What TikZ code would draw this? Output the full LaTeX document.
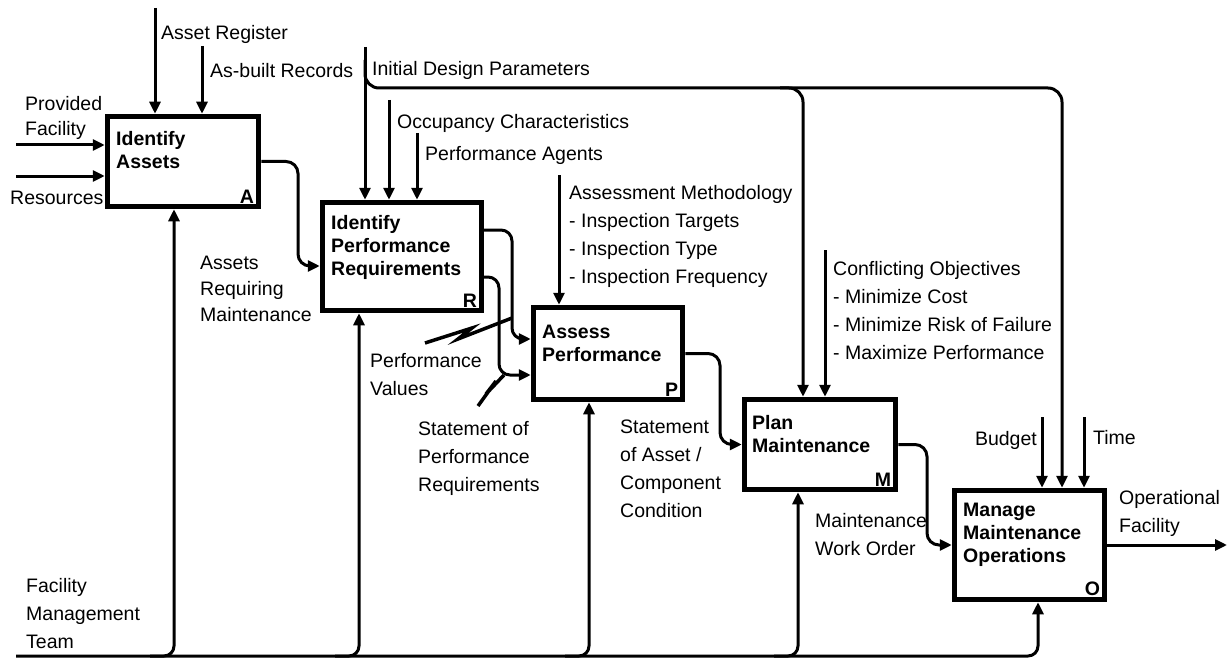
\documentclass[tikz,border=0pt]{standalone}
\usepackage{fontspec}
\setmainfont{Liberation Sans}
\usetikzlibrary{arrows.meta,calc}
\begin{document}
\begin{tikzpicture}[x=1pt,y=-1pt,
  every node/.style={inner sep=0pt},
  lbl/.style={anchor=north west, align=left, font=\fontsize{19.5}{28}\selectfont},
  bx/.style={anchor=north west, align=left, font=\bfseries\fontsize{19.5}{23}\selectfont},
  corner/.style={anchor=south east, font=\bfseries\fontsize{19.5}{23}\selectfont},
  proc/.style={draw, line width=5.5pt},
  ln/.style={line width=3pt},
  sq/.style={line width=3.5pt, line join=miter, miter limit=10},
  arr/.style={line width=3pt, -{Triangle[length=12pt,width=11pt]}},
  rc/.style={rounded corners=12pt}]
\useasboundingbox (0,0) rectangle (1229,658);

% process boxes
\node[proc, minimum width=151pt, minimum height=90pt] (A) at (183,161.5) {};
\node[proc, minimum width=159pt, minimum height=108pt] (R) at (402,256.5) {};
\node[proc, minimum width=149pt, minimum height=92pt] (P) at (608,353.5) {};
\node[proc, minimum width=151pt, minimum height=90pt] (M) at (820,444.5) {};
\node[proc, minimum width=150pt, minimum height=109pt] (O) at (1029.5,545) {};

% box titles
\node[bx] (tA) at (116,131) {Identify\\Assets};
\node[bx] (tR) at (331,215) {Identify\\Performance\\Requirements};
\node[bx] (tP) at (542,325) {Assess\\Performance};
\node[bx] (tM) at (752,415) {Plan\\Maintenance};
\node[bx] (tO) at (963,503) {Manage\\Maintenance\\Operations};
\node[corner] (lA) at ($(A.south east)+(-7,-6)$) {A};
\node[corner] (lR) at ($(R.south east)+(-7,-6)$) {R};
\node[corner] (lP) at ($(P.south east)+(-7,-6)$) {P};
\node[corner] (lM) at ($(M.south east)+(-7,-6)$) {M};
\node[corner] (lO) at ($(O.south east)+(-7,-6)$) {O};

% labels
\node[lbl] (tAR) at (161,25) {Asset Register};
\node[lbl] (tAB) at (210,63) {As-built Records};
\node[lbl] (tIDP) at (372,61) {Initial Design Parameters};
\node[lbl, font=\fontsize{19.5}{25}\selectfont] (tPF) at (25,96) {Provided\\Facility};
\node[lbl] (tRes) at (10,191) {Resources};
\node[lbl] (tOC) at (397,114) {Occupancy Characteristics};
\node[lbl] (tPA) at (425,146) {Performance Agents};
\node[lbl] (tAM) at (569,185) {Assessment Methodology\\- Inspection Targets\\- Inspection Type\\- Inspection Frequency};
\node[lbl] (tCO) at (833,261) {Conflicting Objectives\\- Minimize Cost\\- Minimize Risk of Failure\\- Maximize Performance};
\node[lbl, font=\fontsize{19.5}{26}\selectfont] (tARM) at (200,256) {Assets\\Requiring\\Maintenance};
\node[lbl] (tPV) at (370,353) {Performance\\Values};
\node[lbl] (tSPR) at (418,421) {Statement of\\Performance\\Requirements};
\node[lbl] (tSAC) at (620,420) {Statement\\of Asset /\\Component\\Condition};
\node[lbl] (tMWO) at (815,513) {Maintenance\\Work Order};
\node[lbl, anchor=north east] (tB) at (1037,431) {Budget};
\node[lbl] (tT) at (1093,430) {Time};
\node[lbl] (tOF) at (1119,490) {Operational\\Facility};
\node[lbl] (tFMT) at (26,578) {Facility\\Management\\Team};

% inputs
\coordinate (pf) at (16,145);
\coordinate (rs) at (16,176);
\draw[arr] (pf) -- (pf -| A.west);
\draw[arr] (rs) -- (rs -| A.west);

% controls
\coordinate (car) at (155,8);
\coordinate (cab) at (202,46);
\coordinate (cidp) at (365,47);
\coordinate (cidpb) at (365,60);
\coordinate (cidpO) at (1062,88);
\coordinate (cidpMa) at (780,88);
\coordinate (cidpM) at (803,88);
\coordinate (coc) at (389,100);
\coordinate (cpa) at (417,133);
\coordinate (cam) at (559,175);
\coordinate (cco) at (825,250);
\coordinate (cbu) at (1042,417);
\coordinate (cti) at (1084,417);
\draw[arr] (car) -- (car |- A.north);
\draw[arr] (cab) -- (cab |- A.north);
\draw[arr] (cidp) -- (cidp |- R.north);
\draw[arr, rounded corners=14pt] (cidpb) -- (cidpb |- cidpO) -- (cidpO) -- (cidpO |- O.north);
\draw[arr, rounded corners=14pt] (cidpMa) -- (cidpM) -- (cidpM |- M.north);
\draw[arr] (coc) -- (coc |- R.north);
\draw[arr] (cpa) -- (cpa |- R.north);
\draw[arr] (cam) -- (cam |- P.north);
\draw[arr] (cco) -- (cco |- M.north);
\draw[arr] (cbu) -- (cbu |- O.north);
\draw[arr] (cti) -- (cti |- O.north);

% outputs
\coordinate (oA) at (298,266);
\draw[arr, rc] (A.east) -| (oA) -- (oA -| R.west);
\coordinate (oR1s) at (484,230);
\coordinate (oR1) at (512,339);
\draw[arr, rounded corners=11pt] (oR1s) -| (oR1) -- (oR1 -| P.west);
\coordinate (oR2s) at (484,277);
\coordinate (oR2) at (499,375);
\draw[arr, rounded corners=11pt] (oR2s) -| (oR2) -- (oR2 -| P.west);
\coordinate (oP) at (720,444.5);
\draw[arr, rc] (P.east) -| (oP) -- (oP -| M.west);
\coordinate (oM) at (927,545);
\draw[arr, rc] (M.east) -| (oM) -- (oM -| O.west);
\coordinate (oO) at (1227,545);
\draw[arr] (O.east) -- (oO);

% squiggles (label leaders)
\coordinate (sq1a) at (425,343);
\coordinate (sq1b) at (512,318);
\draw[sq] (sq1a) -- (472,328) -- (458,339) -- (sq1b);
\coordinate (sq2a) at (478,406);
\coordinate (sq2b) at (504,375);
\draw[sq] (sq2a) -- (496,381) -- (486,394) -- (sq2b);

% mechanisms
\coordinate (mb) at (16,656);
\coordinate (mO) at (1038,656);
\draw[arr, rounded corners=10pt] (mb) -- (mO) -- (mO |- O.south);
\coordinate (mA) at (174,656);
\coordinate (mAa) at (150,656);
\draw[arr, rounded corners=10pt] (mAa) -- (mA) -- (mA |- A.south);
\coordinate (mR) at (359,656);
\coordinate (mRa) at (335,656);
\draw[arr, rounded corners=10pt] (mRa) -- (mR) -- (mR |- R.south);
\coordinate (mP) at (589,656);
\coordinate (mPa) at (565,656);
\draw[arr, rounded corners=10pt] (mPa) -- (mP) -- (mP |- P.south);
\coordinate (mM) at (798,656);
\coordinate (mMa) at (774,656);
\draw[arr, rounded corners=10pt] (mMa) -- (mM) -- (mM |- M.south);
\end{tikzpicture}
\end{document}
